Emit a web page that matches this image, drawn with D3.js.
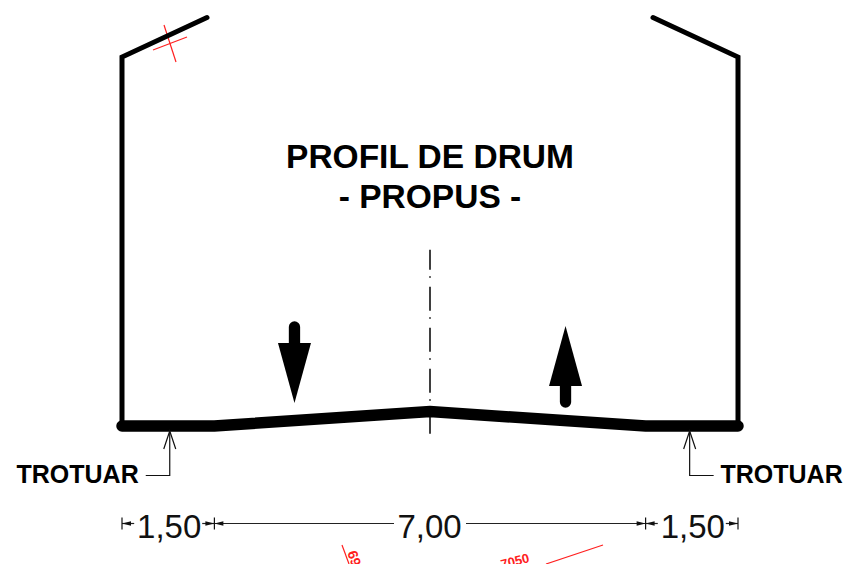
<!DOCTYPE html>
<html>
<head>
<meta charset="utf-8">
<script src="https://cdn.jsdelivr.net/npm/d3@7"></script>
<style>
html, body { margin: 0; padding: 0; background: #fff; overflow: hidden; }
svg { display: block; }
text { font-family: "Liberation Sans", Arial, sans-serif; }
</style>
</head>
<body>
<script>
// all values in metres, measured from the left kerb and the kerb level
const chainBreaks = [0, 1.5, 8.5, 10];
const chainLabels = ["1,50", "7,00", "1,50"];

const roadProfile = [[0, 0], [1.5, 0], [5, 0.235], [8.5, 0], [10, 0]];
const leftWall = [[1.38, 6.63], [0, 5.99], [0, 0]];
const rightWall = [[8.62, 6.63], [10, 5.99], [10, 0]];

const axisX = 5;
const axisRange = [-0.13, 2.86];

const trafficX = [2.8, 7.2];

const kerbX = [0.78, 9.22];
const kerbLabel = "TROTUAR";
const titleLines = ["PROFIL DE DRUM", "- PROPUS -"];

//width and height
const w = 860;
const h = 564;

const x = d3.scaleLinear().domain([0, 10]).range([122, 738]);
const y = d3.scaleLinear().domain([0, 10]).range([426, -190]);

const svg = d3.select("body").append("svg")
    .attr("width", w)
    .attr("height", h)
    .attr("viewBox", `0 0 ${w} ${h}`);

const line = d3.line().x(d => x(d[0])).y(d => y(d[1]));

// red leftovers from the site drawing
const red = svg.append("g").attr("stroke", "#ff2020").attr("fill", "none").attr("stroke-width", 1.2);
red.append("path").attr("d", "M164 25L176 62");
red.append("path").attr("d", "M153 50L187 37");
red.append("path").attr("d", "M342 545L349 564");
red.append("path").attr("d", "M546 564L603 545");
svg.append("text").attr("transform", "translate(358,549) rotate(72)")
    .attr("dy", "0.8em")
    .attr("font-size", 14).attr("font-weight", "bold").attr("fill", "#ff2020").text("69");
svg.append("text").attr("transform", "translate(502,569) rotate(-14)")
    .attr("font-size", 13).attr("font-weight", "bold").attr("fill", "#ff2020").text("7050");

// walls
[leftWall, rightWall].forEach(wall => {
    svg.append("path")
        .datum(wall)
        .attr("fill", "none")
        .attr("stroke", "#000")
        .attr("stroke-width", 5)
        .attr("stroke-linejoin", "miter")
        .attr("stroke-linecap", "round")
        .attr("d", line);
});

// road surface
svg.append("path")
    .datum(roadProfile)
    .attr("fill", "none")
    .attr("stroke", "#000")
    .attr("stroke-width", 11.5)
    .attr("stroke-linejoin", "miter")
    .attr("stroke-linecap", "round")
    .attr("d", line);

// centre line
svg.append("line")
    .attr("x1", x(axisX)).attr("x2", x(axisX))
    .attr("y1", y(axisRange[1])).attr("y2", y(axisRange[0]))
    .attr("stroke", "#000")
    .attr("stroke-width", 1.5)
    .attr("stroke-dasharray", "24 6.5 1.5 9")
    .attr("stroke-dashoffset", 4);

// traffic arrows
function trafficArrow(mx, tipY, baseY, tailY) {
    svg.append("line")
        .attr("x1", x(mx)).attr("x2", x(mx))
        .attr("y1", baseY).attr("y2", tailY)
        .attr("stroke", "#000").attr("stroke-width", 11.3).attr("stroke-linecap", "round");
    svg.append("path")
        .attr("fill", "#000")
        .attr("d", d3.line()([[x(mx) - 16.5, baseY], [x(mx) + 16.5, baseY], [x(mx), tipY]]) + "Z");
}
trafficArrow(trafficX[0], 403, 343, 327);
trafficArrow(trafficX[1], 326, 386, 402);

// title
svg.append("g").selectAll("text").data(titleLines).join("text")
    .attr("x", x(axisX))
    .attr("y", (d, i) => 168 + i * 40)
    .attr("text-anchor", "middle")
    .attr("font-size", 33.5)
    .attr("font-weight", "bold")
    .text(d => d);

// kerb leaders
const thin = svg.append("g").attr("fill", "none").attr("stroke", "#111").attr("stroke-width", 1.2);
kerbX.forEach((k, i) => {
    const s = i === 0 ? -1 : 1;
    const px = x(k) - 0.3;
    thin.append("path").attr("d", `M${px} 432L${px} 475.5L${px + s * 24} 475.5`);
    thin.append("path").attr("d", `M${px - 6} 449L${px} 431L${px + 6} 449`);
});
svg.append("text").attr("x", 16.5).attr("y", 482.5).attr("font-size", 25).attr("font-weight", "bold").text(kerbLabel);
svg.append("text").attr("x", 720.5).attr("y", 482.5).attr("font-size", 25).attr("font-weight", "bold").text(kerbLabel);

// dimension chain
const dimY = 523.5;
const dims = d3.pairs(chainBreaks).map((p, i) => ({a: p[0], b: p[1], label: chainLabels[i]}));
const dim = svg.append("g");
dim.selectAll("text").data(dims).join("text")
    .attr("x", d => x((d.a + d.b) / 2) + (d.label === "7,00" ? -0.5 : 1))
    .attr("y", dimY + 14)
    .attr("text-anchor", "middle")
    .attr("font-size", 33)
    .attr("fill", "#111")
    .text(d => d.label);

const dimGap = {"1,50": 34, "7,00": 36};
dims.forEach(d => {
    const xa = x(d.a), xb = x(d.b), mid = (xa + xb) / 2, gap = dimGap[d.label];
    const seg = [[xa, mid - gap], [mid + gap, xb]];
    seg.forEach(s => dim.append("line")
        .attr("x1", s[0]).attr("x2", s[1])
        .attr("y1", dimY).attr("y2", dimY)
        .attr("stroke", "#222").attr("stroke-width", 1.2));
    [[xa, 1], [xb, -1]].forEach(t => {
        dim.append("path")
            .attr("fill", "#111")
            .attr("d", `M${t[0]} ${dimY}L${t[0] + t[1] * 9} ${dimY - 2.2}L${t[0] + t[1] * 9} ${dimY + 2.2}Z`);
    });
});
chainBreaks.forEach(b => {
    dim.append("line")
        .attr("x1", x(b)).attr("x2", x(b))
        .attr("y1", dimY - 6).attr("y2", dimY + 6)
        .attr("stroke", "#111").attr("stroke-width", 1.2);
});
</script>
</body>
</html>
